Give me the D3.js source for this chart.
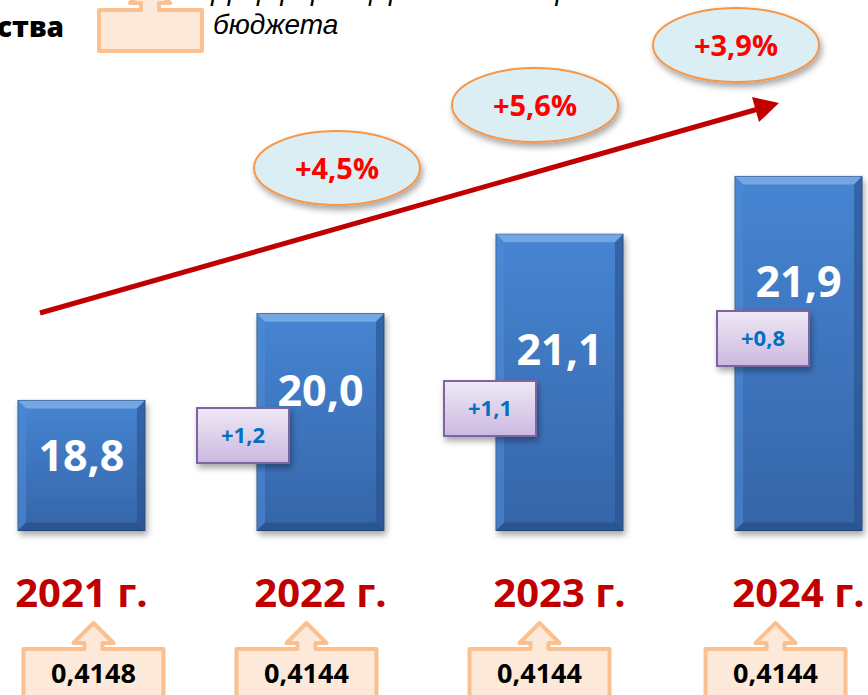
<!DOCTYPE html>
<html>
<head>
<meta charset="utf-8">
<script src="https://cdn.jsdelivr.net/npm/d3@7"></script>
<style>
  body { margin: 0; background: #fff; }
  svg { display: block; }
</style>
</head>
<body>
<div id="chart"></div>
<script>
// data
var years = ["2021 г.", "2022 г.", "2023 г.", "2024 г."]
var values = [18.8, 20.0, 21.1, 21.9]
var valueLabels = ["18,8", "20,0", "21,1", "21,9"]
var deltas = ["", "+1,2", "+1,1", "+0,8"]
var growth = ["+4,5%", "+5,6%", "+3,9%"]
var norms = ["0,4148", "0,4144", "0,4144", "0,4144"]
var legendText = ["Дифференцированный норматив от областного", "бюджета"]

var W = 868, H = 695
var svg = d3.select('#chart').append('svg')
  .attr('width', W).attr('height', H)

var defs = svg.append('defs')
var bg = defs.append('linearGradient').attr('id', 'barGrad')
  .attr('x1', 0).attr('y1', 0).attr('x2', 0).attr('y2', 1)
bg.append('stop').attr('offset', '0%').attr('stop-color', '#4685d3')
bg.append('stop').attr('offset', '100%').attr('stop-color', '#3565a8')

var pg = defs.append('linearGradient').attr('id', 'boxGrad')
  .attr('x1', 0).attr('y1', 0).attr('x2', 0).attr('y2', 1)
pg.append('stop').attr('offset', '0%').attr('stop-color', '#efe9f6')
pg.append('stop').attr('offset', '100%').attr('stop-color', '#cbb8e0')

var sh = defs.append('filter').attr('id', 'shadow')
  .attr('x', '-20%').attr('y', '-20%').attr('width', '150%').attr('height', '160%')
sh.append('feDropShadow').attr('dx', 2).attr('dy', 4).attr('stdDeviation', 3)
  .attr('flood-color', '#000').attr('flood-opacity', 0.35)

// scales
var x = d3.scaleBand()
  .domain(years)
  .range([18, 862])
  .paddingInner(0.469)
  .paddingOuter(0)

var y = d3.scaleLinear()
  .domain([17, 22])
  .range([530.5, 169.2])

var font = "'Open Sans', sans-serif"

// top caption (cut off by the frame, as in the slide)
svg.append('text')
  .attr('x', -3).attr('y', 37)
  .attr('font-family', "'Open Sans', sans-serif")
  .attr('font-weight', 800).attr('font-size', 28)
  .attr('fill', '#000')
  .text('ства')

// up-arrow callout shape
function upCallout(x0, x1, top, bottom, cx, base, tip) {
  return 'M' + x0 + ',' + top + 'L' + (cx - 9) + ',' + top + 'L' + (cx - 9) + ',' + base +
    'L' + (cx - 20) + ',' + base + 'L' + cx + ',' + tip + 'L' + (cx + 20) + ',' + base +
    'L' + (cx + 9) + ',' + base + 'L' + (cx + 9) + ',' + top + 'L' + x1 + ',' + top +
    'L' + x1 + ',' + bottom + 'L' + x0 + ',' + bottom + 'Z'
}
svg.append('path')
  .attr('d', upCallout(99, 202, 10, 51, 150, 3, -17))
  .attr('fill', '#fde9d9').attr('stroke', '#fac090')
  .attr('stroke-width', 4).attr('stroke-linejoin', 'round')

svg.selectAll('.legend-text')
  .data(legendText)
  .enter().append('text')
  .attr('class', 'legend-text')
  .attr('x', 213)
  .attr('y', function (d, i) { return 0 + i * 34 })
  .attr('font-family', "'Liberation Sans', Arial, sans-serif")
  .attr('font-style', 'italic').attr('font-size', 28)
  .attr('fill', '#000')
  .text(function (d) { return d })

// bars
var bars = svg.selectAll('.bar')
  .data(values)
  .enter().append('g')
  .attr('class', 'bar')
  .attr('filter', 'url(#shadow)')

bars.append('rect')
  .attr('x', function (d, i) { return x(years[i]) })
  .attr('y', function (d) { return y(d) })
  .attr('width', x.bandwidth())
  .attr('height', function (d) { return y(17) - y(d) })
  .attr('fill', 'url(#barGrad)')
  .attr('stroke', '#24467a').attr('stroke-width', 1)

var bev = 8
// top bevel
bars.append('path')
  .attr('d', function (d, i) {
    var x0 = x(years[i]), x1 = x0 + x.bandwidth(), t = y(d)
    return 'M' + x0 + ',' + t + 'L' + x1 + ',' + t + 'L' + (x1 - bev) + ',' + (t + bev) +
      'L' + (x0 + bev) + ',' + (t + bev) + 'Z'
  })
  .attr('fill', '#7aaae6').attr('opacity', 0.9)
// left bevel
bars.append('path')
  .attr('d', function (d, i) {
    var x0 = x(years[i]), t = y(d), b = y(17)
    return 'M' + x0 + ',' + t + 'L' + (x0 + bev) + ',' + (t + bev) + 'L' + (x0 + bev) + ',' + (b - bev) +
      'L' + x0 + ',' + b + 'Z'
  })
  .attr('fill', '#4f8bd4').attr('opacity', 0.6)
// right bevel
bars.append('path')
  .attr('d', function (d, i) {
    var x1 = x(years[i]) + x.bandwidth(), t = y(d), b = y(17)
    return 'M' + x1 + ',' + t + 'L' + (x1 - bev) + ',' + (t + bev) + 'L' + (x1 - bev) + ',' + (b - bev) +
      'L' + x1 + ',' + b + 'Z'
  })
  .attr('fill', '#28508a').attr('opacity', 0.6)
// bottom bevel
bars.append('path')
  .attr('d', function (d, i) {
    var x0 = x(years[i]), x1 = x0 + x.bandwidth(), b = y(17)
    return 'M' + x0 + ',' + b + 'L' + x1 + ',' + b + 'L' + (x1 - bev) + ',' + (b - bev) +
      'L' + (x0 + bev) + ',' + (b - bev) + 'Z'
  })
  .attr('fill', '#24467a').attr('opacity', 0.55)

// value labels inside bars
var labelDy = [71, 92, 131, 121]
svg.selectAll('.val')
  .data(values)
  .enter().append('text')
  .attr('class', 'val')
  .attr('x', function (d, i) { return x(years[i]) + x.bandwidth() / 2 })
  .attr('y', function (d, i) { return y(d) + labelDy[i] })
  .attr('text-anchor', 'middle')
  .attr('font-family', font).attr('font-weight', 700).attr('font-size', 43)
  .attr('fill', '#fff')
  .text(function (d, i) { return valueLabels[i] })

// trend arrow
svg.append('line')
  .attr('x1', 40).attr('y1', 313)
  .attr('x2', 760).attr('y2', 108.5)
  .attr('stroke', '#c00000').attr('stroke-width', 5)
svg.append('path')
  .attr('d', 'M779,103L752,97L759,122Z')
  .attr('fill', '#c00000')

// growth ellipses
var ellipsePos = [[337, 168], [535, 105], [736, 45]]
var eg = svg.selectAll('.growth')
  .data(growth)
  .enter().append('g')
  .attr('class', 'growth')
  .attr('transform', function (d, i) { return 'translate(' + ellipsePos[i][0] + ',' + ellipsePos[i][1] + ')' })
eg.append('ellipse')
  .attr('rx', 83).attr('ry', 37)
  .attr('fill', '#dbeef4').attr('stroke', '#f79646').attr('stroke-width', 2)
  .attr('filter', 'url(#shadow)')
eg.append('text')
  .attr('y', 11)
  .attr('text-anchor', 'middle')
  .attr('font-family', font).attr('font-weight', 700).attr('font-size', 29)
  .attr('fill', '#ff0000')
  .text(function (d) { return d })

// delta boxes
var deltaPos = [null, [197, 408], [444, 381], [717, 311]]
var dg = svg.selectAll('.delta')
  .data(deltas.filter(function (d) { return d !== '' }))
  .enter().append('g')
  .attr('class', 'delta')
  .attr('transform', function (d, i) { return 'translate(' + deltaPos[i + 1][0] + ',' + deltaPos[i + 1][1] + ')' })
dg.append('rect')
  .attr('width', 92).attr('height', 55)
  .attr('fill', 'url(#boxGrad)').attr('stroke', '#8064a2').attr('stroke-width', 2)
  .attr('filter', 'url(#shadow)')
dg.append('text')
  .attr('x', 46).attr('y', 35)
  .attr('text-anchor', 'middle')
  .attr('font-family', font).attr('font-weight', 700).attr('font-size', 22)
  .attr('fill', '#0070c0')
  .text(function (d) { return d })

// year labels
svg.selectAll('.year')
  .data(years)
  .enter().append('text')
  .attr('class', 'year')
  .attr('x', function (d) { return x(d) + x.bandwidth() / 2 })
  .attr('y', 607)
  .attr('text-anchor', 'middle')
  .attr('font-family', font).attr('font-weight', 700).attr('font-size', 40)
  .attr('fill', '#c00000')
  .text(function (d) { return d })

// norm callouts under years
var normShift = [12, -14, -20, -23]
var ng = svg.selectAll('.norm')
  .data(norms)
  .enter().append('g')
  .attr('class', 'norm')
  .attr('transform', function (d, i) {
    return 'translate(' + (x(years[i]) + x.bandwidth() / 2 + normShift[i]) + ',0)'
  })
ng.append('path')
  .attr('d', upCallout(-70, 70, 649, 712, 0, 643, 623))
  .attr('fill', '#fde9d9').attr('stroke', '#fac090')
  .attr('stroke-width', 4).attr('stroke-linejoin', 'round')
ng.append('text')
  .attr('y', 683)
  .attr('text-anchor', 'middle')
  .attr('font-family', font).attr('font-weight', 700).attr('font-size', 27)
  .attr('fill', '#000')
  .text(function (d) { return d })
</script>
</body>
</html>
